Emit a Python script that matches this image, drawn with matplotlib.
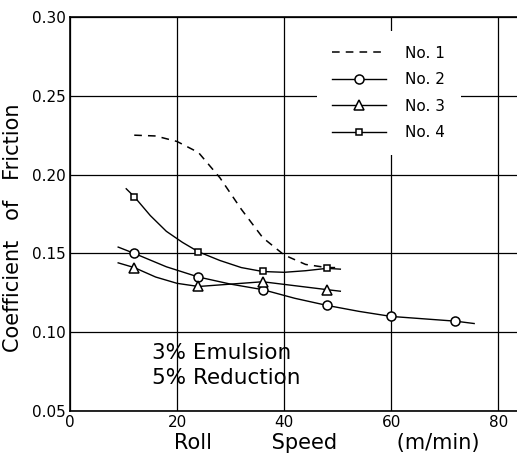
import numpy as np
import matplotlib.pyplot as plt

# No.1 (dashed curve, no markers)
no1_x = [12, 16, 20, 24, 28, 32, 36, 40, 44, 48, 50]
no1_y = [0.225, 0.2245, 0.221, 0.214, 0.198, 0.178, 0.160, 0.149, 0.143, 0.141, 0.141]

# measured points
speed = [12, 24, 36, 48, 60, 72]
no2_y = [0.150, 0.135, 0.127, 0.117, 0.110, 0.107]
no3_y = [0.141, 0.129, 0.132, 0.127]
no4_y = [0.186, 0.151, 0.139, 0.141]

# fitted curves through the points
no2_cx = [9, 12, 18, 24, 30, 36, 42, 48, 54, 60, 66, 72, 75.5]
no2_cy = [0.154, 0.150, 0.1415, 0.135, 0.1305, 0.127, 0.1215, 0.117, 0.1132, 0.110, 0.1085, 0.107, 0.1055]
no3_cx = [9, 12, 16, 20, 24, 30, 36, 42, 48, 50.5]
no3_cy = [0.144, 0.141, 0.135, 0.131, 0.129, 0.1305, 0.132, 0.1295, 0.127, 0.126]
no4_cx = [10.5, 12, 15, 18, 21, 24, 28, 32, 36, 40, 44, 48, 50.5]
no4_cy = [0.191, 0.186, 0.174, 0.164, 0.157, 0.151, 0.1455, 0.141, 0.1385, 0.138, 0.139, 0.1405, 0.140]

fig = plt.figure(figsize=(5.17, 4.55), dpi=100)
ax = fig.add_axes([0.1354, 0.0967, 0.8646, 0.866])

ax.plot(no1_x, no1_y, 'k--', lw=1.1, dashes=(5, 4), label='No. 1')
ax.plot(no2_cx, no2_cy, 'k-', lw=1.0)
ax.plot(no3_cx, no3_cy, 'k-', lw=1.0)
ax.plot(no4_cx, no4_cy, 'k-', lw=1.0)
ax.plot(speed, no2_y, 'o', ms=6.5, mfc='white', mec='k', mew=1.1)
ax.plot(speed[:4], no3_y, '^', ms=6.5, mfc='white', mec='k', mew=1.1)
ax.plot(speed[:4], no4_y, 's', ms=5, mfc='white', mec='k', mew=1.1)

# legend handles
h2, = ax.plot([], [], 'k-o', lw=1.0, ms=6.5, mfc='white', mew=1.1, label='No. 2')
h3, = ax.plot([], [], 'k-^', lw=1.0, ms=6.5, mfc='white', mew=1.1, label='No. 3')
h4, = ax.plot([], [], 'k-s', lw=1.0, ms=5, mfc='white', mew=1.1, label='No. 4')
leg = ax.legend(loc='upper left', bbox_to_anchor=(0.535, 0.985), frameon=True,
                fancybox=False, edgecolor='none', facecolor='white', framealpha=1,
                fontsize=11, handlelength=3.5, handletextpad=1.3,
                labelspacing=0.75, borderpad=1.0)

ax.set_xlim(0, 83.5)
ax.set_ylim(0.05, 0.30)
ax.set_xticks([0, 20, 40, 60, 80])
ax.set_yticks([0.05, 0.10, 0.15, 0.20, 0.25, 0.30])
ax.set_yticklabels(['0.05', '0.10', '0.15', '0.20', '0.25', '0.30'])
ax.tick_params(length=0, labelsize=11, pad=3)
ax.grid(True, color='k', lw=0.9)
ax.spines['right'].set_visible(False)
for s in ['left', 'top', 'bottom']:
    ax.spines[s].set_linewidth(1.2)

ax.text(15.3, 0.087, '3% Emulsion', fontsize=15.5, va='center')
ax.text(15.3, 0.071, '5% Reduction', fontsize=15.5, va='center')

ax.set_ylabel('Coefficient   of   Friction', fontsize=15)
ax.yaxis.set_label_coords(-0.105, 0.464)
ax.set_xlabel('Roll         Speed         (m/min)', fontsize=15)
ax.xaxis.set_label_coords(0.575, -0.055)

fig.savefig('out.png', dpi=100, facecolor='white')
